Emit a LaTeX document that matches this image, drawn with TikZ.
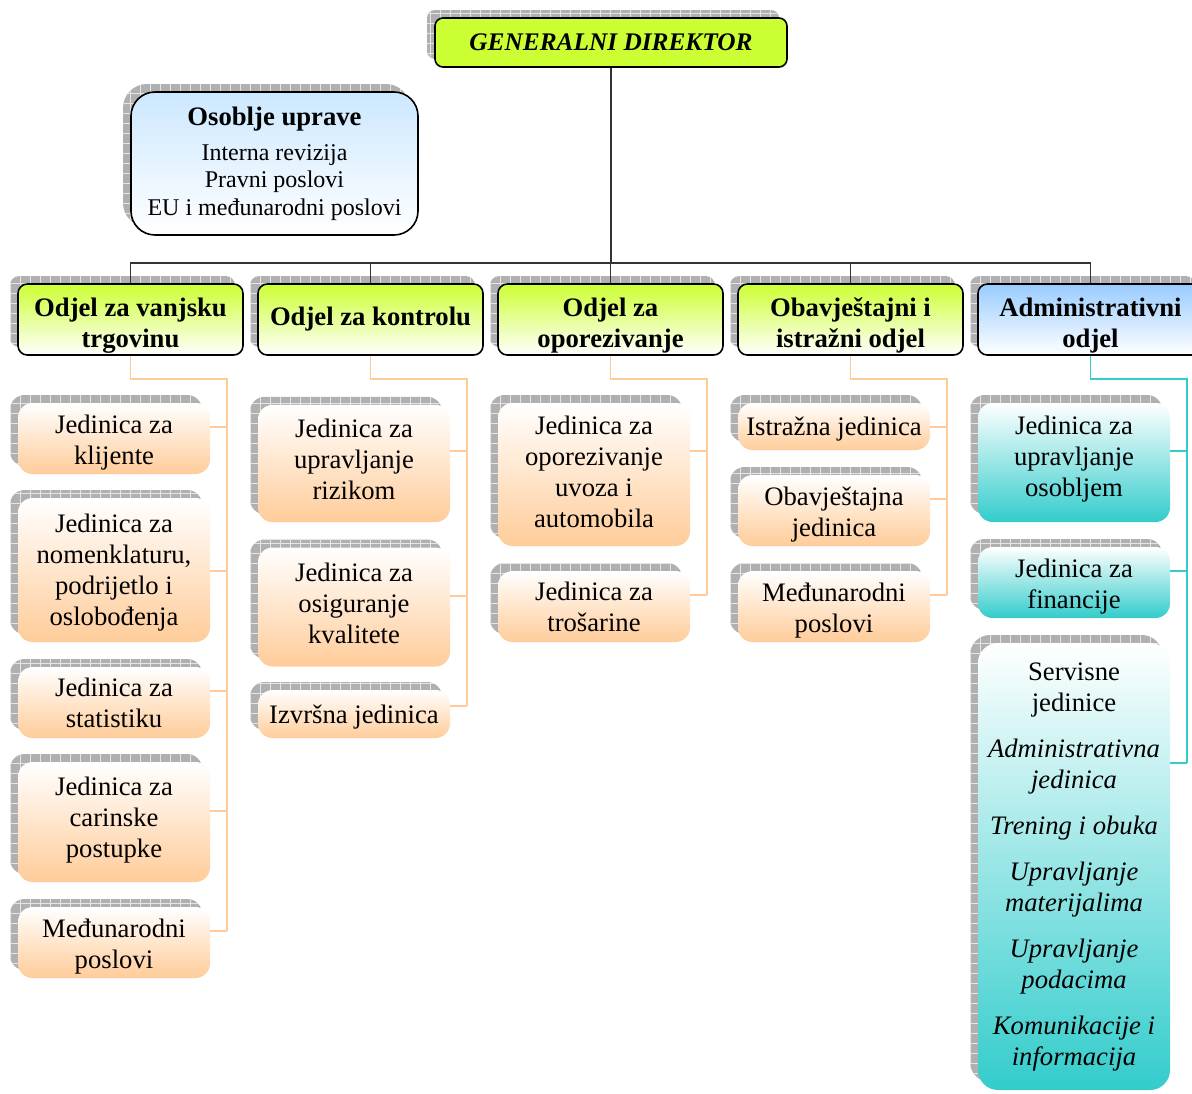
\documentclass[tikz,border=0pt]{standalone}
\usepackage{fontspec}
\setmainfont{Liberation Serif}
\usetikzlibrary{shadows,patterns.meta,calc}
\definecolor{limec}{HTML}{CCFF33}
\definecolor{skyc}{HTML}{CCE8FF}
\definecolor{bluec}{HTML}{99CCFF}
\definecolor{peach}{HTML}{FFCC99}
\definecolor{tealc}{HTML}{33CCCC}
\definecolor{shadowgray}{HTML}{B0B0B0}
\definecolor{linec}{HTML}{333333}
\tikzset{
  shd/.style={
    general shadow={fill=shadowgray, shadow xshift=-6pt, shadow yshift=6pt},
    general shadow={pattern={Hatch[distance=7.5pt,angle=0,line width=0.5pt]}, pattern color=gray!20, shadow xshift=-6pt, shadow yshift=6pt}},
  boss/.style={shd, draw=black, line width=1.2pt, rounded corners=6pt, fill=limec,
    minimum width=264pt, minimum height=36.75pt, inner sep=0pt,
    font=\fontsize{19}{22}\selectfont\bfseries\itshape},
  staff/.style={shd, draw=black, line width=1.2pt, rounded corners=18pt, top color=skyc, bottom color=white,
    minimum width=215.25pt, minimum height=107.25pt, inner sep=0pt, align=center,
    font=\fontsize{18}{20.6}\selectfont},
  dept/.style={shd, draw=black, line width=1.2pt, rounded corners=7pt, top color=limec, bottom color=white,
    minimum width=168.75pt, minimum height=53.25pt, inner sep=0pt, align=center,
    font=\fontsize{20}{23.25}\selectfont\bfseries},
  dept2/.style={dept, text height=45.85pt},
  deptb/.style={dept2, top color=bluec, bottom color=white},
  unit/.style={shd, rounded corners=11pt, top color=white, bottom color=peach,
    minimum width=144pt, inner sep=0pt, align=center,
    font=\fontsize{20}{23.25}\selectfont},
  unitt/.style={unit, bottom color=tealc},
  bline/.style={draw=linec, line width=1pt},
  oline/.style={draw=peach, line width=1pt},
  tline/.style={draw=tealc, line width=1pt},
}
\begin{document}
\begin{tikzpicture}[x=0.75pt,y=-0.75pt]
\clip (0,0) rectangle (1192,1093);
\fill[white] (0,0) rectangle (1192,1093);

% top
\node[boss, text height=12pt] (dir) at (611,42.5) {GENERALNI DIREKTOR};
\node[staff] (os) at (274.5,163.5) {{\fontsize{20}{20.6}\selectfont\bfseries Osoblje uprave}\\[5.6pt]Interna revizija\\Pravni poslovi\\EU i međunarodni poslovi};

% departments
\node[dept2] (d1) at (130.5,319.5) {Odjel za vanjsku\\trgovinu};
\node[dept] (d2) at (370.5,319.5) {Odjel za kontrolu};
\node[dept2] (d3) at (610.5,319.5) {Odjel za\\oporezivanje};
\node[dept2] (d4) at (850.5,319.5) {Obavještajni i\\istražni odjel};
\node[deptb] (d5) at (1090.5,319.5) {Administrativni\\odjel};

% column 1
\node[unit, minimum height=53.25pt, text height=42.85pt] (u11) at (114,438.5) {Jedinica za\\klijente};
\node[unit, minimum height=108pt, text height=87.85pt] (u12) at (114,570) {Jedinica za\\nomenklaturu,\\podrijetlo i\\oslobođenja};
\node[unit, minimum height=53.25pt, text height=38.35pt] (u13) at (114,702.5) {Jedinica za\\statistiku};
\node[unit, minimum height=90pt, text height=57.1pt] (u14) at (114,822) {Jedinica za\\carinske\\postupke};
\node[unit, minimum height=53.25pt, text height=42.85pt] (u15) at (114,942.5) {Međunarodni\\poslovi};

% column 2
\node[unit, minimum height=88pt, text height=54.1pt] (u21) at (354,463.5) {Jedinica za\\upravljanje\\rizikom};
\node[unit, minimum height=89.25pt, text height=55.6pt] (u22) at (354,607) {Jedinica za\\osiguranje\\kvalitete};
\node[unit, minimum height=36pt, text height=18.1pt] (u23) at (354,714) {Izvršna jedinica};

% column 3
\node[unit, minimum height=107.25pt, text height=80.35pt] (u31) at (594,474.5) {Jedinica za\\oporezivanje\\uvoza i\\automobila};
\node[unit, minimum height=53.25pt, text height=38.35pt] (u32) at (594,606.5) {Jedinica za\\trošarine};

% column 4
\node[unit, minimum height=35.25pt, text height=18.1pt] (u41) at (834,426.5) {Istražna jedinica};
\node[unit, minimum height=53.25pt, text height=42.85pt] (u42) at (834,510.5) {Obavještajna\\jedinica};
\node[unit, minimum height=53.25pt, text height=42.85pt] (u43) at (834,606.5) {Međunarodni\\poslovi};

% column 5
\node[unitt, minimum height=89.25pt, text height=55.6pt] (u51) at (1074,462.5) {Jedinica za\\upravljanje\\osobljem};
\node[unitt, minimum height=53.25pt, text height=42.85pt] (u52) at (1074,582.5) {Jedinica za\\financije};
\node[unitt, minimum height=335.25pt, rounded corners=15pt] (u53) at (1074,866.5) {Servisne\\jedinice\\[11.25pt]\textit{Administrativna}\\\textit{jedinica}\\[11.25pt]\textit{Trening i obuka}\\[11.25pt]\textit{Upravljanje}\\\textit{materijalima}\\[11.25pt]\textit{Upravljanje}\\\textit{podacima}\\[11.25pt]\textit{Komunikacije i}\\\textit{informacija}};

% main connectors
\coordinate (bus) at (611,263);
\draw[bline] (dir.south) -- (bus);
\draw[bline] ($(os.east)+(0,-24.5)$) -- ($(os.east)+(0,-24.5)$ -| dir.south);
\draw[bline] (d1.north) |- (bus) -| (d5.north);
\draw[bline] (d2.north) -- (d2.north |- bus);
\draw[bline] (d3.north) -- (d3.north |- bus);
\draw[bline] (d4.north) -- (d4.north |- bus);

% column connectors
\coordinate (c1) at (227,379);
\coordinate (c2) at (467,379);
\coordinate (c3) at (707,379);
\coordinate (c4) at (947,379);
\coordinate (c5) at (1187,379);

\coordinate (b11) at ($(u11.east)+(0,-11.5)$);
\coordinate (b12) at ($(u12.east)+(0,1)$);
\coordinate (b13) at ($(u13.east)+(0,-11.5)$);
\coordinate (b14) at ($(u14.east)+(0,-11)$);
\coordinate (b15) at ($(u15.east)+(0,-11.5)$);
\draw[oline] (d1.south) |- (c1) -- (c1 |- b15);
\foreach \b in {b11,b12,b13,b14,b15} \draw[oline] (\b) -- (\b -| c1);

\coordinate (b21) at ($(u21.east)+(0,-12.5)$);
\coordinate (b22) at ($(u22.east)+(0,-11)$);
\coordinate (b23) at ($(u23.east)+(0,-8)$);
\draw[oline] (d2.south) |- (c2) -- (c2 |- b23);
\foreach \b in {b21,b22,b23} \draw[oline] (\b) -- (\b -| c2);

\coordinate (b31) at ($(u31.east)+(0,-23.5)$);
\coordinate (b32) at ($(u32.east)+(0,-11.5)$);
\draw[oline] (d3.south) |- (c3) -- (c3 |- b32);
\foreach \b in {b31,b32} \draw[oline] (\b) -- (\b -| c3);

\coordinate (b41) at ($(u41.east)+(0,0.5)$);
\coordinate (b42) at ($(u42.east)+(0,-11.5)$);
\coordinate (b43) at ($(u43.east)+(0,-11.5)$);
\draw[oline] (d4.south) |- (c4) -- (c4 |- b43);
\foreach \b in {b41,b42,b43} \draw[oline] (\b) -- (\b -| c4);

\coordinate (b51) at ($(u51.east)+(0,-11.5)$);
\coordinate (b52) at ($(u52.east)+(0,-11.5)$);
\coordinate (b53) at ($(u53.east)+(0,-103.5)$);
\draw[tline] (d5.south) |- (c5) -- (c5 |- b53);
\foreach \b in {b51,b52,b53} \draw[tline] (\b) -- (\b -| c5);
\end{tikzpicture}
\end{document}
